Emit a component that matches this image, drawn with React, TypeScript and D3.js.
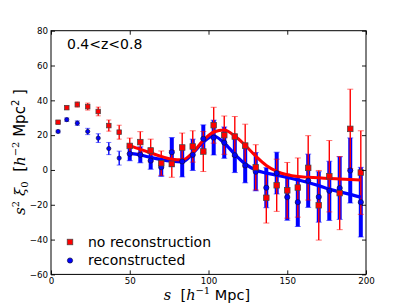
import React, { useEffect, useRef } from 'react';
import * as d3 from 'd3';

// bin centres (h^-1 Mpc)
const sBins = [4.5, 10, 16.7, 23.3, 30, 36.7, 43.3, 50, 56.7, 63.3, 70, 76.7, 83.3, 90, 96.7,
  103.3, 110, 116.7, 123.3, 130, 136.7, 143.3, 150, 156.7, 163.3, 170, 176.7, 183.3, 190, 196.7];

// no reconstruction (red squares)
const xiNoRecon = [27.4, 35.8, 37.6, 36.4, 33.6, 25.5, 21.7, 13.8, 16, 11.2, 3.9, 3.5, 12.9, 13.5, 10.6,
  25.7, 20, 19.2, 14, 1.5, -16, -8.8, -11.7, -10.1, 1.2, -20.3, -3.6, -13.3, 23.6, -1.5];
const errNoRecon = [0.8, 1, 1.5, 2, 2.5, 3.2, 4, 4.5, 6, 6.5, 7, 7.7, 8.3, 9, 11.5,
  10.3, 11, 11.5, 12.3, 13, 14.5, 15, 16, 17, 18.5, 20, 20.5, 21, 22.8, 24];

// reconstructed (blue circles)
const xiRecon = [22.1, 28.9, 26.9, 22.1, 18.3, 12.3, 6.8, 9.3, 8.7, 5.4, 1.6, 10.2, 4.9, 8.7, 17.9,
  18.6, 15.7, 8.5, 2.6, -1, -10.2, -1.8, -15.6, -18.5, -6.2, -15.5, -12, -10.4, -0.3, -18.5];
const errRecon = [0.8, 1, 1.3, 1.8, 2.5, 3.5, 4, 4, 4.6, 5, 5.3, 8.4, 8.9, 9, 8,
  10, 9, 10, 10, 11, 11.5, 12, 13.3, 14, 15.3, 14.5, 17, 18, 18.7, 20];

// best-fit model curves
const sModel = [50, 56.7, 63.3, 70, 76.7, 83.3, 90, 96.7, 103.3, 110, 116.7, 123.3, 130, 136.7,
  143.3, 150, 156.7, 163.3, 170, 176.7, 183.3, 190, 196.7];
const modelNoRecon = [14, 11.8, 9.8, 7.8, 6.2, 5.8, 10, 17, 21.8, 23, 19.5, 14.2, 8, 2.6,
  -0.8, -2.8, -3.8, -4.2, -4.5, -4.9, -5.2, -5.5, -5.8];
const modelRecon = [9.5, 8.6, 7.2, 5.9, 5, 4.6, 9.5, 16, 19.5, 15.5, 9, 3.5, 0, -1.8,
  -3, -4.3, -5.7, -7.2, -9, -11, -12.6, -14, -15.6];

const xTicks = [0, 50, 100, 150, 200];
const yTicks = [-60, -40, -20, 0, 20, 40, 60, 80];

const W = 407;
const H = 305;
const RED = '#ff0000';
const BLUE = '#0000ff';
const SANS = 'DejaVu Sans, sans-serif';
const SERIF = 'DejaVu Serif, serif';

const x = d3.scaleLinear().domain([0, 200]).range([51, 366]);
const y = d3.scaleLinear().domain([-60, 80]).range([274.4, 30.7]);

const App = () => {
  const bottomRef = useRef<SVGGElement>(null);
  const leftRef = useRef<SVGGElement>(null);
  const topRef = useRef<SVGGElement>(null);
  const rightRef = useRef<SVGGElement>(null);

  useEffect(() => {
    const style = (g: any, labels: boolean) => {
      g.select('.domain').remove();
      g.attr('font-family', SANS).attr('font-size', 8.7);
      g.selectAll('.tick line').attr('stroke', '#000').attr('stroke-width', 0.9);
      g.selectAll('.tick text').attr('fill', '#000');
      if (!labels) g.selectAll('.tick text').remove();
    };
    d3.select(bottomRef.current)
      .call(d3.axisBottom(x).tickValues(xTicks).tickSizeInner(-4).tickSizeOuter(0).tickPadding(3))
      .call(g => style(g, true));
    d3.select(leftRef.current)
      .call(d3.axisLeft(y).tickValues(yTicks).tickSizeInner(-4).tickSizeOuter(0).tickPadding(3))
      .call(g => style(g, true));
    d3.select(topRef.current)
      .call(d3.axisTop(x).tickValues(xTicks).tickSizeInner(-4).tickSizeOuter(0))
      .call(g => style(g, false));
    d3.select(rightRef.current)
      .call(d3.axisRight(y).tickValues(yTicks).tickSizeInner(-4).tickSizeOuter(0))
      .call(g => style(g, false));
  }, []);

  const line = d3.line<number>()
    .x((_, i) => x(sModel[i]))
    .y(d => y(d))
    .curve(d3.curveMonotoneX);

  const errBars = (vals: number[], errs: number[], color: string, key: string) =>
    sBins.map((s, i) => {
      const wide = color === BLUE && s >= 50;
      const cx = x(s);
      const y0 = y(vals[i] - errs[i]);
      const y1 = y(vals[i] + errs[i]);
      const cap = s >= 50 ? 3 : 2.5;
      return (
        <g key={key + i}>
          <line x1={cx} x2={cx} y1={y0} y2={y1} stroke={color} strokeWidth={wide ? 4 : 1.4} />
          <line x1={cx - cap} x2={cx + cap} y1={y0} y2={y0} stroke={color} strokeOpacity={0.55} strokeWidth={1} />
          <line x1={cx - cap} x2={cx + cap} y1={y1} y2={y1} stroke={color} strokeOpacity={0.55} strokeWidth={1} />
        </g>
      );
    });

  return (
    <svg width={W} height={H} style={{ position: 'absolute', left: 0, top: 0, background: '#fff' }}>
      <rect x={0} y={0} width={W} height={H} fill="#fff" />

      {/* error bars */}
      {errBars(xiRecon, errRecon, BLUE, 'eb')}
      {errBars(xiNoRecon, errNoRecon, RED, 'er')}

      {/* models */}
      <path d={line(modelRecon) || ''} fill="none" stroke={BLUE} strokeWidth={3.2} strokeLinejoin="round" />
      <path d={line(modelNoRecon) || ''} fill="none" stroke={RED} strokeWidth={3} strokeLinejoin="round" />

      {/* reconstructed */}
      {sBins.map((s, i) => (
        <circle key={'b' + i} cx={x(s)} cy={y(xiRecon[i])} r={s >= 50 ? 2.6 : 2.1}
          fill={BLUE} stroke="#101040" strokeWidth={0.7} />
      ))}

      {/* no reconstruction */}
      {sBins.map((s, i) => {
        const sz = s >= 50 ? 5.6 : 4.6;
        return (
          <rect key={'r' + i} x={x(s) - sz / 2} y={y(xiNoRecon[i]) - sz / 2} width={sz} height={sz}
            fill={RED} stroke="#444" strokeWidth={0.7} />
        );
      })}

      {/* frame and ticks */}
      <g ref={bottomRef} transform="translate(0,274.4)" />
      <g ref={leftRef} transform="translate(51,0)" />
      <g ref={topRef} transform="translate(0,30.7)" />
      <g ref={rightRef} transform="translate(366,0)" />
      <rect x={51} y={30.7} width={315} height={243.7} fill="none" stroke="#000" strokeWidth={1} />

      {/* redshift bin */}
      <text x={67} y={48.5} fontFamily={SANS} fontSize={14} fill="#000">0.4&lt;z&lt;0.8</text>

      {/* legend */}
      <rect x={67.2} y={239.2} width={5.6} height={5.6} fill={RED} stroke="#444" strokeWidth={0.7} />
      <text x={88} y={247} fontFamily={SANS} fontSize={14} fill="#000">no reconstruction</text>
      <circle cx={70} cy={260.5} r={2.6} fill={BLUE} stroke="#101040" strokeWidth={0.7} />
      <text x={88} y={265} fontFamily={SANS} fontSize={14} fill="#000">reconstructed</text>

      {/* x label */}
      <text x={207} y={300} textAnchor="middle" fontSize={14.5} fill="#000" fontFamily={SANS}>
        <tspan fontFamily={SERIF} fontStyle="italic">s</tspan>
        <tspan>{'\u00a0\u00a0['}</tspan>
        <tspan fontFamily={SERIF} fontStyle="italic">h</tspan>
        <tspan fontFamily={SERIF} fontSize={10} dy={-6}>{'\u22121'}</tspan>
        <tspan dy={6}>{'\u00a0Mpc]'}</tspan>
      </text>

      {/* y label */}
      <text transform="translate(25,152) rotate(-90)" textAnchor="middle" fontSize={15} fill="#000" fontFamily={SANS}>
        <tspan fontFamily={SERIF} fontStyle="italic">s</tspan>
        <tspan fontFamily={SERIF} fontSize={10} dy={-6}>2</tspan>
        <tspan fontFamily={SERIF} fontStyle="italic" dy={6}>{'\u00a0\u03be'}</tspan>
        <tspan fontFamily={SERIF} fontSize={10} dy={3}>0</tspan>
        <tspan dy={-3}>{'\u00a0\u00a0['}</tspan>
        <tspan fontFamily={SERIF} fontStyle="italic">h</tspan>
        <tspan fontFamily={SERIF} fontSize={10} dy={-6}>{'\u22122'}</tspan>
        <tspan dy={6}>{'\u00a0Mpc'}</tspan>
        <tspan fontSize={10} dy={-6}>2</tspan>
        <tspan dy={6}>{'\u00a0]'}</tspan>
      </text>
    </svg>
  );
};

export default App;
